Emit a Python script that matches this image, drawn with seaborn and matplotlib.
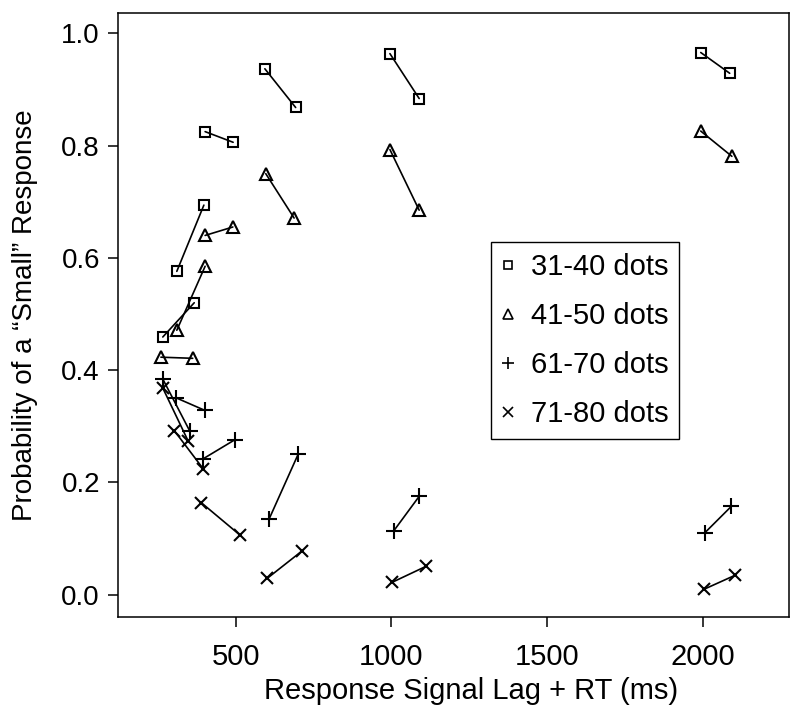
import matplotlib
matplotlib.use("Agg")
import matplotlib.pyplot as plt
from matplotlib.lines import Line2D
import seaborn as sns
import pandas as pd

# Values; each condition has 6 lag pairs (first, second point)
pair_id = [1, 1, 2, 2, 3, 3, 4, 4, 5, 5, 6, 6]

sq_rt = [265, 366, 310, 397, 401, 491, 593, 692, 995, 1089, 1994, 2087]
sq_p = [0.459, 0.520, 0.576, 0.694, 0.825, 0.806, 0.937, 0.868, 0.964, 0.884, 0.966, 0.929]

tri_rt = [259, 361, 310, 401, 401, 490, 596, 687, 995, 1089, 1994, 2094]
tri_p = [0.423, 0.421, 0.471, 0.585, 0.640, 0.655, 0.750, 0.671, 0.793, 0.685, 0.826, 0.781]

plus_rt = [265, 352, 306, 401, 395, 497, 607, 700, 1008, 1089, 2007, 2092]
plus_p = [0.384, 0.291, 0.351, 0.328, 0.242, 0.276, 0.135, 0.250, 0.114, 0.175, 0.110, 0.157]

x_rt = [265, 347, 302, 395, 388, 513, 601, 711, 1003, 1110, 2003, 2103]
x_p = [0.368, 0.273, 0.292, 0.224, 0.164, 0.106, 0.029, 0.077, 0.022, 0.050, 0.009, 0.034]

groups = ["31-40 dots", "41-50 dots", "61-70 dots", "71-80 dots"]
markers = ["s", "^", "+", "x"]
marker_sizes = [7.5, 9, 11, 9]

x_ticks = [500, 1000, 1500, 2000]
y_ticks = [0.0, 0.2, 0.4, 0.6, 0.8, 1.0]

# Build long-form table
frames = []
for name, rt, p in zip(groups, [sq_rt, tri_rt, plus_rt, x_rt], [sq_p, tri_p, plus_p, x_p]):
    frames.append(pd.DataFrame({"rt": rt, "p": p, "pair": pair_id, "group": name}))
df = pd.concat(frames, ignore_index=True)

sns.set_theme(style="ticks")
plt.rcParams["font.family"] = ["Liberation Sans", "DejaVu Sans"]
plt.rcParams["text.color"] = "black"
plt.rcParams["axes.labelcolor"] = "black"
plt.rcParams["xtick.color"] = "black"
plt.rcParams["ytick.color"] = "black"

fig = plt.figure(figsize=(8, 7.16), dpi=100)
ax = fig.add_axes([0.1475, 0.1383, 0.8385, 0.844])

for name, m, ms in zip(groups, markers, marker_sizes):
    sub = df[df["group"] == name]
    sns.lineplot(
        data=sub, x="rt", y="p", units="pair", estimator=None,
        color="black", lw=1.2, marker=m, markersize=ms,
        mfc="none", mec="black", mew=1.5, legend=False, ax=ax,
    )

ax.set_xlim(121, 2277)
ax.set_ylim(-0.04, 1.037)
ax.set_xticks(x_ticks)
ax.set_yticks(y_ticks)
ax.set_yticklabels([f"{v:.1f}" for v in y_ticks])
ax.tick_params(axis="both", length=7, width=1.1)
ax.tick_params(axis="x", labelsize=21, pad=12)
ax.tick_params(axis="y", labelsize=20, pad=6)
for s in ax.spines.values():
    s.set_visible(True)
    s.set_linewidth(1.1)
    s.set_color("black")

ax.set_xlabel("Response Signal Lag + RT (ms)", fontsize=21)
ax.xaxis.set_label_coords(0.526, -0.100)
ax.set_ylabel("Probability of a \u201cSmall\u201d Response", fontsize=20, labelpad=17)

handles = [
    Line2D([], [], ls="none", marker=m, markersize=ms * 0.8, mfc="none", mec="black", mew=1.2, color="black")
    for m, ms in zip(markers, marker_sizes)
]
leg = ax.legend(
    handles, groups, loc="upper left", bbox_to_anchor=(0.614, 0.662),
    bbox_transform=fig.transFigure, fontsize=21, frameon=True, fancybox=False,
    framealpha=1, edgecolor="black", handlelength=0.42, handletextpad=0.55,
    labelspacing=0.72, borderpad=0.38, borderaxespad=0,
)
leg.get_frame().set_linewidth(1.0)

fig.savefig("out.png", dpi=100)
